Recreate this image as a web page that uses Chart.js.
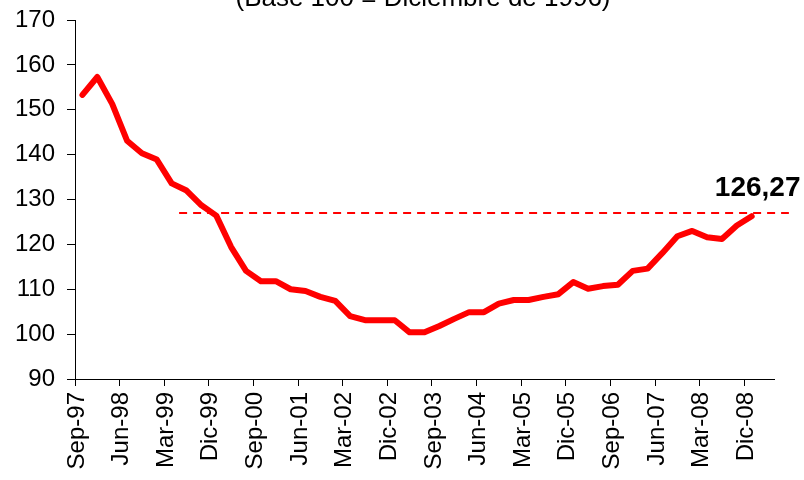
<!DOCTYPE html>
<html>
<head>
<meta charset="utf-8">
<script src="https://cdn.jsdelivr.net/npm/chart.js@4"></script>
<style>
  html, body { margin: 0; padding: 0; background: #ffffff; }
  #wrap { width: 804px; height: 480px; }
</style>
</head>
<body>
<div id="wrap"><canvas id="c" width="804" height="480"></canvas></div>
<script>
// ---- data ----
const categories = [
  'Sep-97','Dic-97',
  'Mar-98','Jun-98','Sep-98','Dic-98',
  'Mar-99','Jun-99','Sep-99','Dic-99',
  'Mar-00','Jun-00','Sep-00','Dic-00',
  'Mar-01','Jun-01','Sep-01','Dic-01',
  'Mar-02','Jun-02','Sep-02','Dic-02',
  'Mar-03','Jun-03','Sep-03','Dic-03',
  'Mar-04','Jun-04','Sep-04','Dic-04',
  'Mar-05','Jun-05','Sep-05','Dic-05',
  'Mar-06','Jun-06','Sep-06','Dic-06',
  'Mar-07','Jun-07','Sep-07','Dic-07',
  'Mar-08','Jun-08','Sep-08','Dic-08'
];
const indexValues = [
  153.3,157.3,151.3,143.1,140.3,138.9,133.6,132.0,128.7,126.4,
  119.4,114.1,111.8,111.8,110.0,109.6,108.3,107.4,104.0,103.1,
  103.1,103.1,100.4,100.4,101.8,103.4,104.9,104.9,106.8,107.6,
  107.6,108.3,108.9,111.6,110.1,110.7,111.0,114.1,114.6,118.1,
  121.8,123.0,121.6,121.2,124.2,126.27
];
const tickStep = 3;                 // one label every 3 quarters
const yTicks = { min: 90, max: 170, step: 10 };
const refLine = { from: 7, to: 48, value: 127 };
const lastLabel = '126,27';
const titleText = '(Base 100 = Diciembre de 1996)';

// ---- build ----
const lineData = indexValues.map((v, i) => ({ x: i + 0.5, y: v }));
const refData = [{ x: refLine.from, y: refLine.value }, { x: refLine.to, y: refLine.value }];
const tickPositions = [];
for (let i = 0; i < categories.length; i += tickStep) tickPositions.push(i);

const FONT = 'Liberation Sans, Arial, sans-serif';

const textPlugin = {
  id: 'texts',
  afterDraw(chart) {
    const ctx = chart.ctx;
    const xs = chart.scales.x, ys = chart.scales.y;
    ctx.save();
    ctx.fillStyle = '#000';
    ctx.font = '26px ' + FONT;
    ctx.textAlign = 'center';
    ctx.textBaseline = 'alphabetic';
    ctx.fillText(titleText, 423, 6);
    const li = indexValues.length - 1;
    const px = xs.getPixelForValue(li + 0.5);
    const py = ys.getPixelForValue(indexValues[li]);
    ctx.font = 'bold 28px ' + FONT;
    ctx.fillText(lastLabel, px + 6, py - 20);
    ctx.restore();
  }
};

new Chart(document.getElementById('c'), {
  type: 'line',
  data: {
    datasets: [
      {
        data: lineData,
        borderColor: '#FF0000',
        borderWidth: 6,
        pointRadius: 0,
        borderJoinStyle: 'round',
        borderCapStyle: 'round',
        tension: 0,
        order: 1
      },
      {
        data: refData,
        borderColor: '#FF0000',
        borderWidth: 2,
        borderDash: [8, 6],
        pointRadius: 0,
        clip: false,
        order: 2
      }
    ]
  },
  options: {
    responsive: false,
    animation: false,
    devicePixelRatio: 1,
    layout: { padding: { top: 20, right: 30, left: 0, bottom: 0 } },
    plugins: { legend: { display: false }, tooltip: { enabled: false }, title: { display: false } },
    scales: {
      x: {
        type: 'linear',
        min: 0,
        max: categories.length + 1,
        afterBuildTicks: s => { s.ticks = tickPositions.map(v => ({ value: v })); },
        afterFit: s => { s.height = 101; s.paddingTop = 0; s.paddingBottom = 0; },
        ticks: {
          autoSkip: false,
          minRotation: 90,
          maxRotation: 90,
          padding: 6,
          labelOffset: 2,
          color: '#000',
          font: { family: FONT, size: 24 },
          callback: v => categories[v]
        },
        grid: { drawOnChartArea: false, drawTicks: true, tickLength: 7, color: '#000', lineWidth: 1 },
        border: { display: true, color: '#000', width: 1 }
      },
      y: {
        min: yTicks.min,
        max: yTicks.max,
        afterFit: s => { s.width = 75; s.paddingTop = 0; s.paddingBottom = 0; },
        ticks: {
          stepSize: yTicks.step,
          padding: 12,
          color: '#000',
          font: { family: FONT, size: 24 }
        },
        grid: { drawOnChartArea: false, drawTicks: true, tickLength: 8, color: '#000', lineWidth: 1 },
        border: { display: true, color: '#000', width: 1 }
      }
    }
  },
  plugins: [textPlugin]
});
</script>
</body>
</html>
